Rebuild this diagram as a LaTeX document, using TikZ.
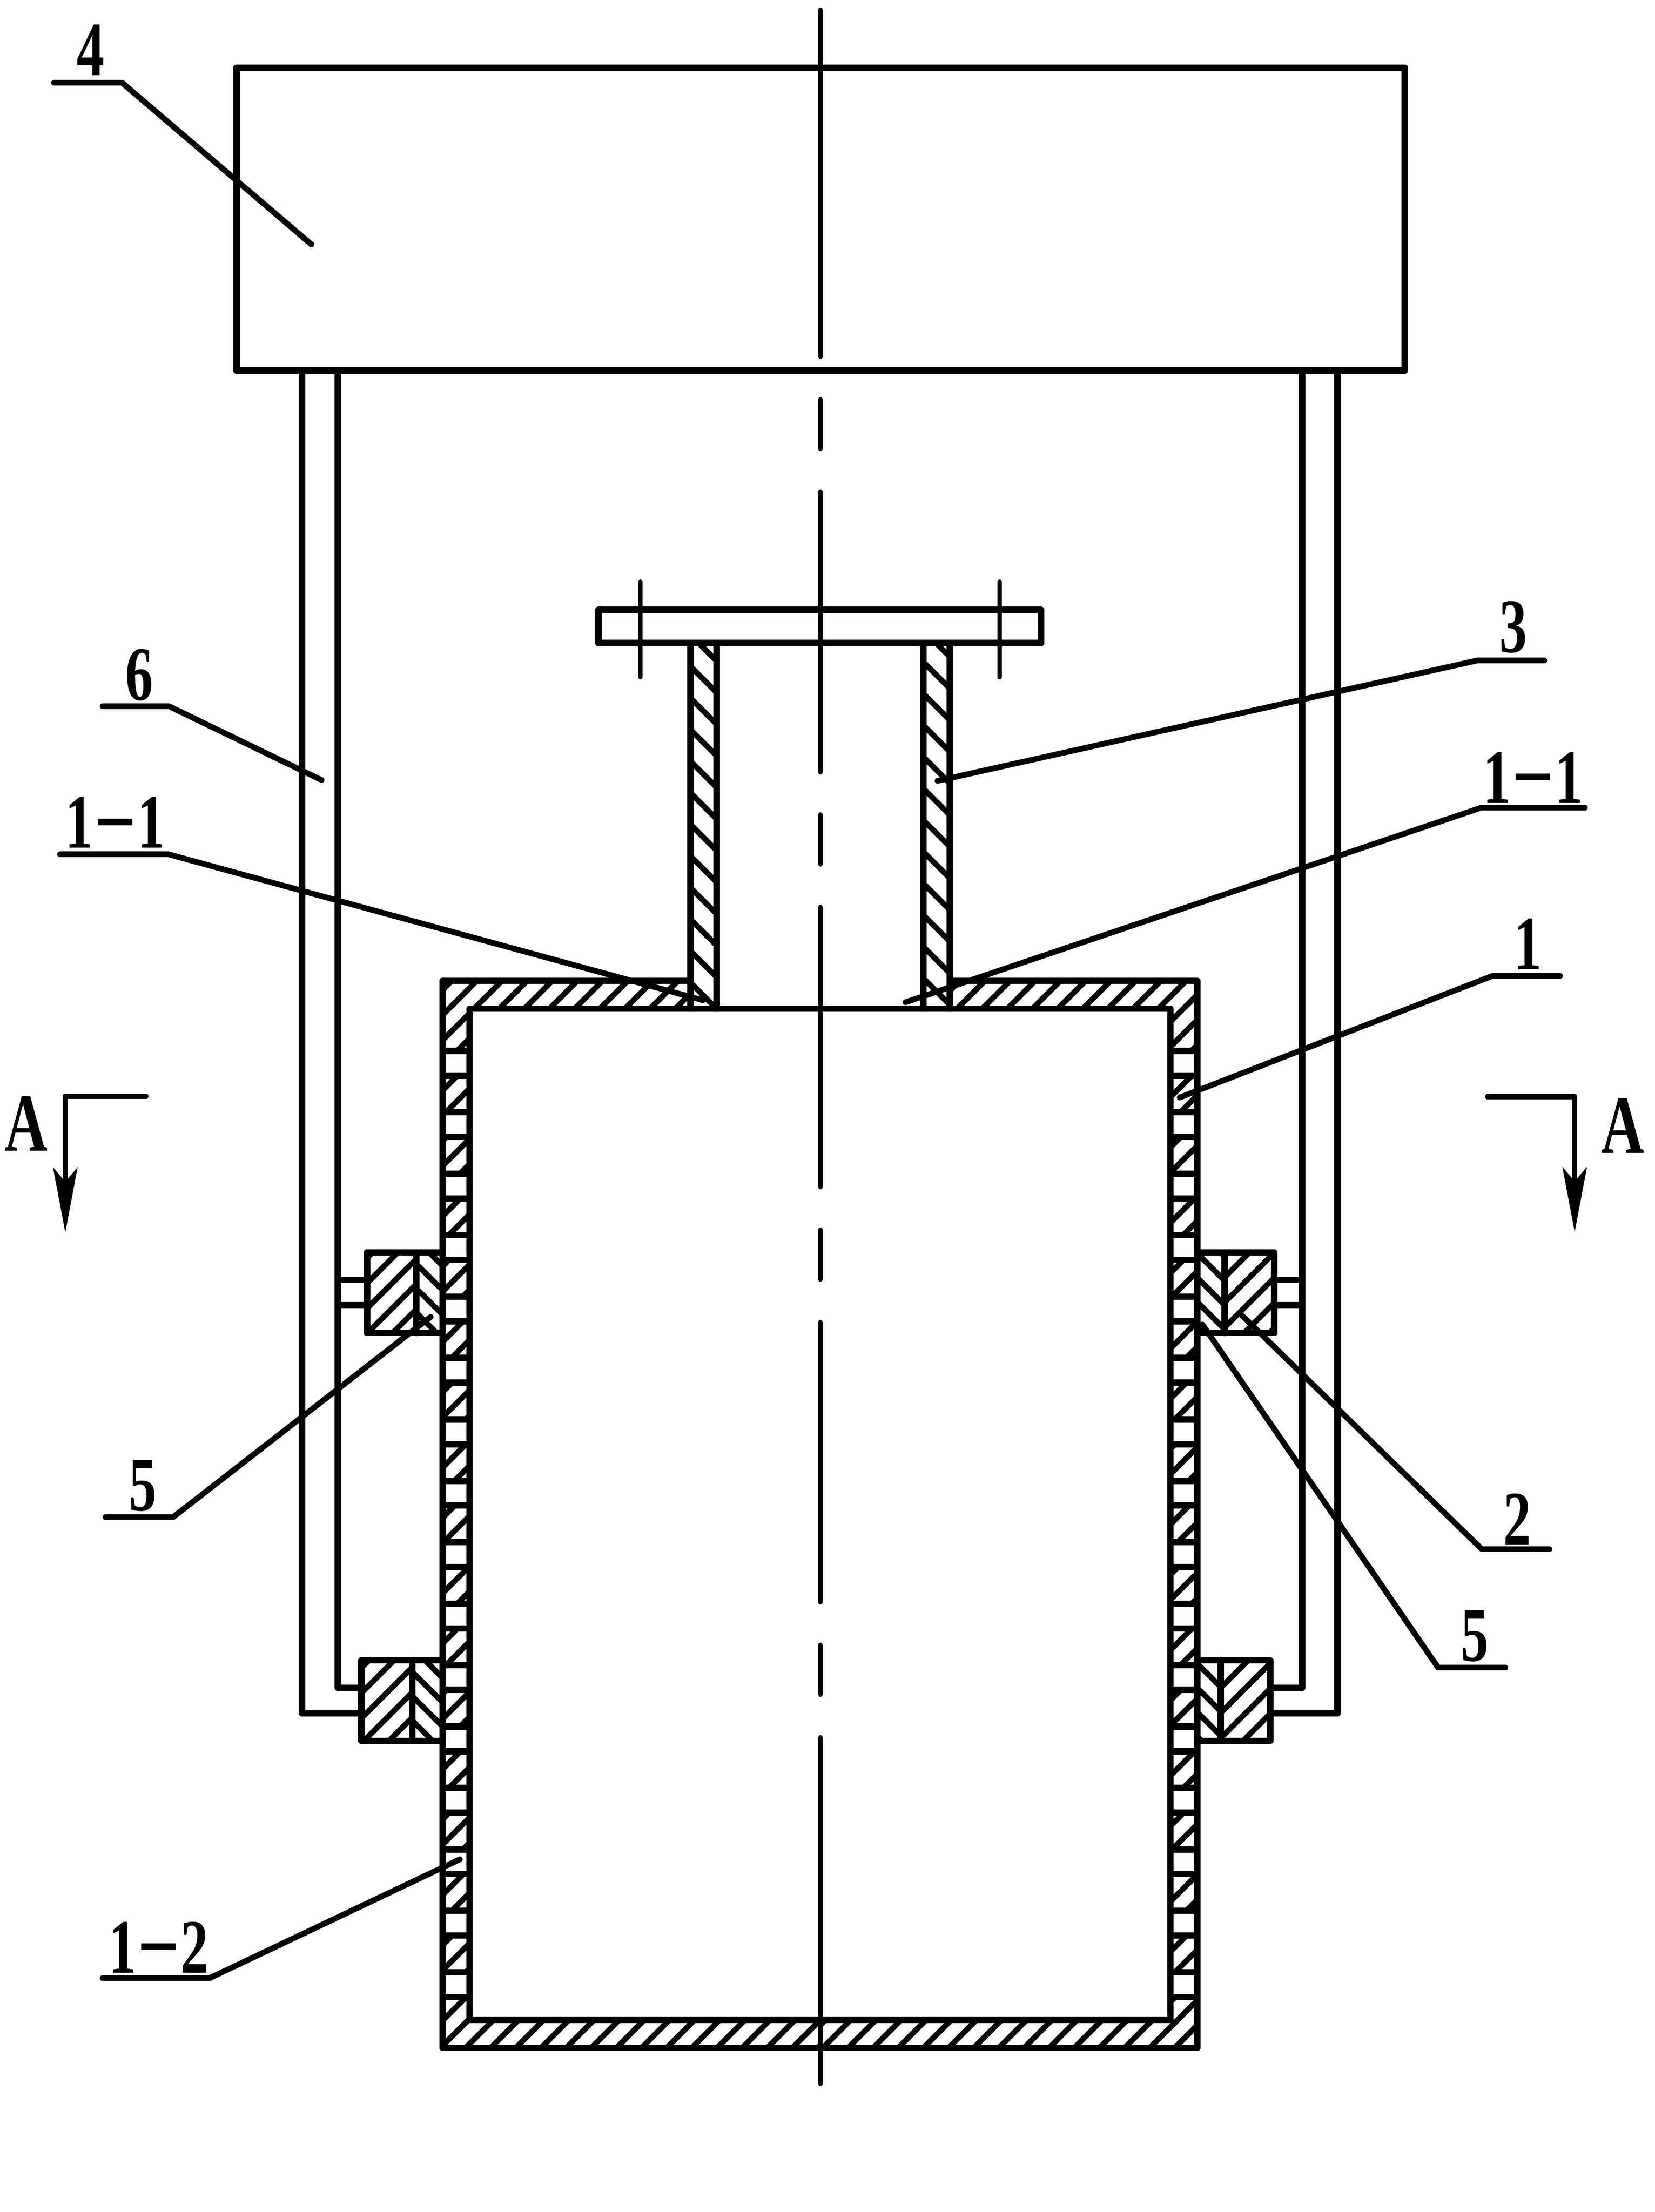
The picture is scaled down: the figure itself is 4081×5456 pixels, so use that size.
\documentclass[tikz,border=0pt]{standalone}
\usepackage{fontspec}
\usetikzlibrary{arrows.meta}
\newfontfamily\partfont{Liberation Serif}[FakeStretch=0.72]

% Hatches a box with 45 degree lines, #5 is a point on one line, #6 the step
\newcommand\hatchUp[6]{
    \begin{scope}
        \clip (#1,#2) rectangle (#3,#4);
        \foreach \k in {-80,...,80} {
            \draw[hatchline] ({#5+\k*#6-#2},#2) -- ({#5+\k*#6-#4},#4);
        }
    \end{scope}
}
\newcommand\hatchDown[6]{
    \begin{scope}
        \clip (#1,#2) rectangle (#3,#4);
        \foreach \k in {-80,...,80} {
            \draw[hatchline] ({#5+\k*#6+#2},#2) -- ({#5+\k*#6+#4},#4);
        }
    \end{scope}
}
\newcommand\partLabel{\partfont\bfseries\fontsize{54}{54}\selectfont}
\newcommand\longDash{\raisebox{.1em}{\scalebox{2.4}[1]{-}}}

\tikzset{
    outline/.style={line width=4.5pt},
    hatchline/.style={line width=3.9pt},
    centerline/.style={line width=3.2pt},
    leader/.style={line width=4.0pt},
    partno/.style={inner sep=0pt,font=\partLabel},
    sectionno/.style={inner sep=0pt,font=\partfont\bfseries\fontsize{58}{58}\selectfont},
    sectionline/.style={line width=3.6pt,-{Stealth[length=1.6cm,width=.6cm,inset=.35cm]}}
}

\begin{document}
\begin{tikzpicture}[x=0.01cm,y=-0.01cm,line cap=round,line join=round]

\useasboundingbox (0,0) rectangle (4081,5456);

% Top box and the two rods
\draw[outline] (583,167) rectangle (3464,914);
\draw[outline] (745,914) -- (745,4226) -- (891,4226);
\draw[outline] (833,914) -- (833,4163);
\draw[outline] (3211,914) -- (3211,4163);
\draw[outline] (3298,914) -- (3298,4226) -- (3132,4226);

% Short pieces between rods and blocks
\foreach \y in {3157,3219} {
    \draw[outline] (833,\y) -- (905,\y);
    \draw[outline] (3142,\y) -- (3211,\y);
}
\draw[outline] (833,4163) -- (891,4163);
\draw[outline] (3132,4163) -- (3211,4163);

% Wall sections
\hatchUp{1091}{2419}{1703}{2488}{3595}{62}
\hatchUp{1091}{2419}{1158}{5051}{3595}{62}
\hatchUp{1091}{4982}{2020}{5051}{3595}{62}
\hatchUp{2342}{2419}{2952}{2488}{5902}{62}
\hatchUp{2886}{2419}{2952}{5051}{5902}{62}
\hatchUp{2020}{4982}{2952}{5051}{5902}{62}

\draw[outline] (1703,2419) -- (1091,2419) -- (1091,5051) -- (2952,5051) -- (2952,2419) -- (2342,2419);
\draw[outline] (1158,2488) rectangle (2886,4982);

% Window openings in the walls
\foreach \n in {0,...,15} {
    \pgfmathsetmacro\ytop{2592+\n*151.5}
    \draw[outline,fill=white] (1091,\ytop) rectangle (1158,\ytop+61);
    \draw[outline,fill=white] (2886,\ytop) rectangle (2952,\ytop+61);
}

% Neck and flange
\hatchDown{1703}{1586}{1767}{2488}{59}{78}
\hatchDown{2277}{1586}{2342}{2488}{644}{78}
\draw[outline] (1703,1586) -- (1703,2488);
\draw[outline] (1767,1586) -- (1767,2488);
\draw[outline] (2277,1586) -- (2277,2488);
\draw[outline] (2342,1586) -- (2342,2488);
\draw[outline] (1476,1504) rectangle (2567,1586);
\foreach \x in {1579,2465} {
    \draw[centerline] (\x,1435) -- (\x,1670);
}

% Blocks on the left
\hatchUp{905}{3089}{1026}{3288}{4070}{62}
\hatchDown{1026}{3089}{1091}{3288}{-2091}{60}
\draw[outline] (1091,3089) -- (905,3089) -- (905,3288) -- (1091,3288);
\draw[outline] (1026,3089) -- (1026,3288);
\hatchUp{891}{4095}{1017}{4294}{5067}{62}
\hatchDown{1017}{4095}{1091}{4294}{-3107}{60}
\draw[outline] (1091,4095) -- (891,4095) -- (891,4294) -- (1091,4294);
\draw[outline] (1017,4095) -- (1017,4294);

% Blocks on the right
\hatchDown{2952}{3089}{3020}{3288}{-139}{60}
\hatchUp{3020}{3089}{3142}{3288}{6170}{62}
\draw[outline] (2952,3089) -- (3142,3089) -- (3142,3288) -- (2952,3288);
\draw[outline] (3020,3089) -- (3020,3288);
\hatchDown{2952}{4095}{3010}{4294}{-1151}{60}
\hatchUp{3010}{4095}{3132}{4294}{7173}{62}
\draw[outline] (2952,4095) -- (3132,4095) -- (3132,4294) -- (2952,4294);
\draw[outline] (3010,4095) -- (3010,4294);

% Center line
\foreach \a/\b in {24/880,985/1108,1213/1905,2009/2132,2237/2928,3033/3156,3261/3952,4057/4180,4285/5140} {
    \draw[centerline] (2023,\a) -- (2023,\b);
}

% Part numbers
\node[partno] (lab4) at (224,124) {4};
\node[partno] (lab6) at (343,1665) {6};
\node[partno] (lab11l) at (284,2029) {1\longDash1};
\node[partno] (lab3) at (3732,1547) {3};
\node[partno] (lab11r) at (3780,1918) {1\longDash1};
\node[partno] (lab1) at (3768,2329) {1};
\node[partno] (lab2) at (3741,3747) {2};
\node[partno] (lab5r) at (3637,4036) {5};
\node[partno] (lab5l) at (352,3665) {5};
\node[partno] (lab12) at (391,4803) {1\longDash2};
\node[sectionno] (labAl) at (64,2771) {A};
\node[sectionno] (labAr) at (4001,2777) {A};

% Leaders, as: free end of the underline, knee, tip
\coordinate (start4) at (133,204);   \coordinate (knee4) at (301,204);   \coordinate (tip4) at (768,603);
\coordinate (start6) at (253,1742);  \coordinate (knee6) at (417,1742);  \coordinate (tip6) at (793,1924);
\coordinate (start11l) at (148,2107); \coordinate (knee11l) at (415,2107); \coordinate (tip11l) at (1733,2467);
\coordinate (start3) at (3808,1629); \coordinate (knee3) at (3643,1629); \coordinate (tip3) at (2312,1926);
\coordinate (start11r) at (3908,1992); \coordinate (knee11r) at (3653,1992); \coordinate (tip11r) at (2233,2472);
\coordinate (start1) at (3847,2407); \coordinate (knee1) at (3680,2407); \coordinate (tip1) at (2909,2707);
\coordinate (start2) at (3821,3821); \coordinate (knee2) at (3654,3821); \coordinate (tip2) at (3062,3244);
\coordinate (start5r) at (3712,4113); \coordinate (knee5r) at (3546,4113); \coordinate (tip5r) at (2965,3267);
\coordinate (start5l) at (260,3742); \coordinate (knee5l) at (427,3742); \coordinate (tip5l) at (1062,3248);
\coordinate (start12) at (253,4879); \coordinate (knee12) at (517,4879); \coordinate (tip12) at (1134,4586);
\foreach \p in {4,6,11l,3,11r,1,2,5r,5l,12} {
    \draw[leader] (start\p) -- (knee\p) -- (tip\p);
}

% Section marks
\coordinate (secLa) at (360,2704);  \coordinate (secLb) at (161,2704);  \coordinate (secLc) at (161,3040);
\coordinate (secRa) at (3668,2705); \coordinate (secRb) at (3883,2705); \coordinate (secRc) at (3883,3039);
\draw[sectionline] (secLa) -- (secLb) -- (secLc);
\draw[sectionline] (secRa) -- (secRb) -- (secRc);

\end{tikzpicture}
\end{document}
